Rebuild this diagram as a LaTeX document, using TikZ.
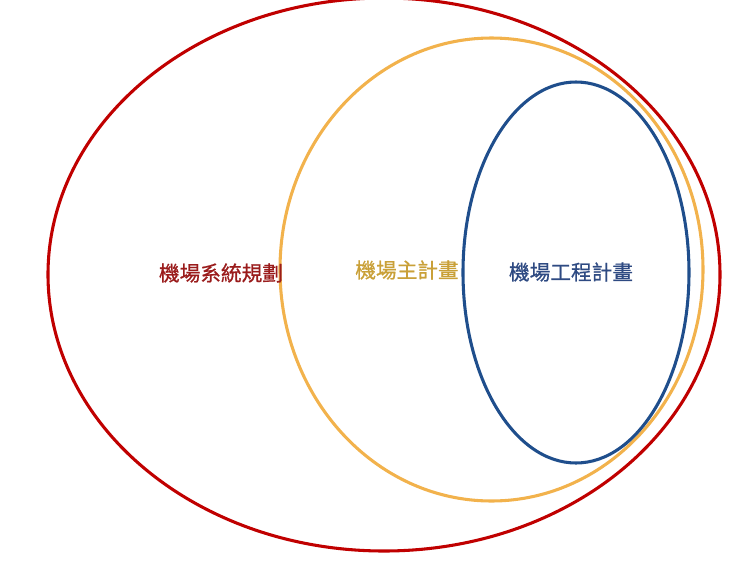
\documentclass[tikz,border=0pt]{standalone}
\usepackage{fontspec}
\newfontfamily\cjk[FakeBold=0.8]{Noto Sans CJK TC}
\definecolor{sysred}{HTML}{C00000}
\definecolor{masterorange}{HTML}{F2B24C}
\definecolor{workblue}{HTML}{1F4E8C}
\definecolor{sysredtext}{HTML}{9A1C1C}
\definecolor{mastertext}{HTML}{C9A038}
\definecolor{worktext}{HTML}{2E4A82}
\tikzset{
  ring/.style={line width=2.3pt},
  tag/.style={font=\cjk\fontsize{15.5}{18}\selectfont, inner sep=0pt}
}
\begin{document}
\begin{tikzpicture}[x=0.75pt,y=-0.75pt]
  \useasboundingbox (0,0) rectangle (740,572);

  \draw[ring, sysred] (384,274.5) ellipse [x radius=336, y radius=276.5];
  \draw[ring, masterorange] (491.5,269.5) ellipse [x radius=211.5, y radius=231.5];
  \draw[ring, workblue] (576,272.5) ellipse [x radius=113, y radius=190.5];

  \node[tag, text=sysredtext] (sysplan) at (221,273) {機場系統規劃};
  \node[tag, text=mastertext] (masterplan) at (407,270) {機場主計畫};
  \node[tag, text=worktext] (workplan) at (571,272) {機場工程計畫};
\end{tikzpicture}
\end{document}
